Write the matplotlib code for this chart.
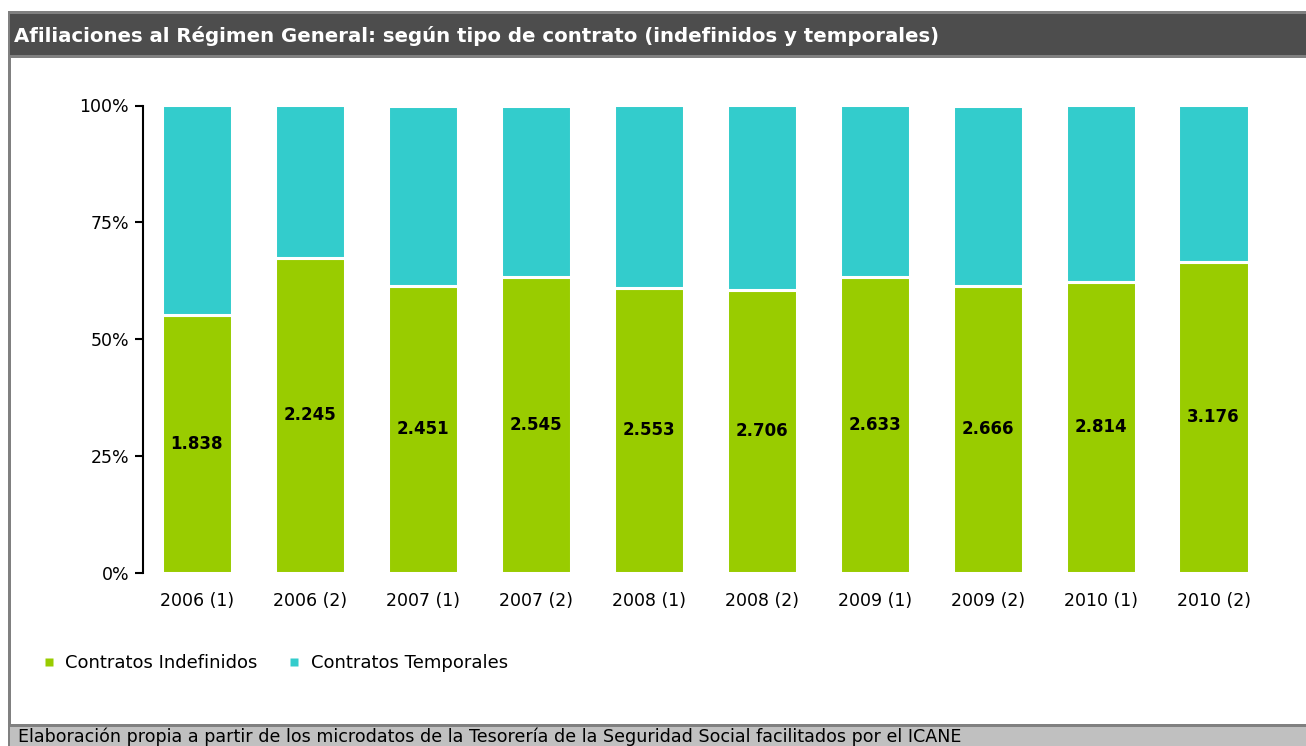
import matplotlib.pyplot as plt
import numpy as np
from matplotlib.patches import Rectangle
from matplotlib.lines import Line2D

# periods and values (thousands of affiliations)
periods = ['2006 (1)', '2006 (2)', '2007 (1)', '2007 (2)', '2008 (1)',
           '2008 (2)', '2009 (1)', '2009 (2)', '2010 (1)', '2010 (2)']
indefinidos = [1838, 2245, 2451, 2545, 2553, 2706, 2633, 2666, 2814, 3176]
temporales = [1498, 1086, 1541, 1482, 1632, 1759, 1533, 1676, 1703, 1593]

green = '#99CC00'
cyan = '#33CCCC'

W, H = 1306, 746
fig = plt.figure(figsize=(W / 100, H / 100), dpi=100)


def fx(px):
    return px / W


def fy(py):
    return 1 - py / H


# frame: title bar, left border, footer
fig.patches.append(Rectangle((fx(8), fy(58)), fx(1306 - 8), 47 / H, transform=fig.transFigure,
                             facecolor='#808080', edgecolor='none', zorder=0))
fig.patches.append(Rectangle((fx(10), fy(55)), fx(1306 - 10), 41 / H, transform=fig.transFigure,
                             facecolor='#4D4D4D', edgecolor='none', zorder=1))
fig.patches.append(Rectangle((fx(8), 0), fx(3), fy(58), transform=fig.transFigure,
                             facecolor='#808080', edgecolor='none', zorder=1))
fig.patches.append(Rectangle((fx(8), 0), fx(1306 - 8), fy(724), transform=fig.transFigure,
                             facecolor='#808080', edgecolor='none', zorder=1))
fig.patches.append(Rectangle((fx(10), 0), fx(1306 - 10), fy(727), transform=fig.transFigure,
                             facecolor='#C0C0C0', edgecolor='none', zorder=2))

fig.text(fx(14), fy(36), 'Afiliaciones al Régimen General: según tipo de contrato (indefinidos y temporales)',
         color='white', fontsize=14.2, fontweight='bold', va='center', ha='left')
fig.text(fx(18), fy(737), 'Elaboración propia a partir de los microdatos de la Tesorería de la Seguridad Social facilitados por el ICANE',
         color='black', fontsize=12.6, va='center', ha='left')

ax = fig.add_axes([fx(143), fy(572.7), fx(1270 - 143), (572.7 - 105.5) / H])

ind = np.array(indefinidos, dtype=float)
tem = np.array(temporales, dtype=float)
tot = ind + tem
p_ind = ind / tot * 100
p_tem = tem / tot * 100
x = np.arange(len(periods))

ax.bar(x, p_ind, width=0.62, color=green, edgecolor='white', linewidth=2.2, zorder=2)
ax.bar(x, p_tem, bottom=p_ind, width=0.62, color=cyan, edgecolor='white', linewidth=2.2, zorder=2)

for xi, p, v in zip(x, p_ind, indefinidos):
    ax.text(xi, p / 2, f'{v / 1000:.3f}', ha='center', va='center',
            fontsize=12, fontweight='bold', color='black')

ax.set_xlim(-0.476, 9.5)
ax.set_ylim(0, 100)
ax.set_yticks([0, 25, 50, 75, 100])
ax.set_yticklabels(['0%', '25%', '50%', '75%', '100%'])
ax.set_xticks(x)
ax.set_xticklabels(periods)
ax.tick_params(axis='y', length=6, width=1.5, labelsize=12.5, pad=4)
ax.tick_params(axis='x', length=0, labelsize=12.5, pad=14)
for s in ['top', 'right', 'bottom']:
    ax.spines[s].set_visible(False)
ax.spines['left'].set_linewidth(1.5)

handles = [Line2D([], [], marker='s', linestyle='none', markersize=5.5,
                  markerfacecolor=green, markeredgecolor='none'),
           Line2D([], [], marker='s', linestyle='none', markersize=5.5,
                  markerfacecolor=cyan, markeredgecolor='none')]
fig.legend(handles, ['Contratos Indefinidos', 'Contratos Temporales'],
           loc='center left', bbox_to_anchor=(fx(37), fy(663)), ncol=2,
           frameon=False, fontsize=13, handletextpad=0.65, columnspacing=1.8,
           handlelength=0.5, borderaxespad=0)

fig.savefig('out.png', dpi=100)
